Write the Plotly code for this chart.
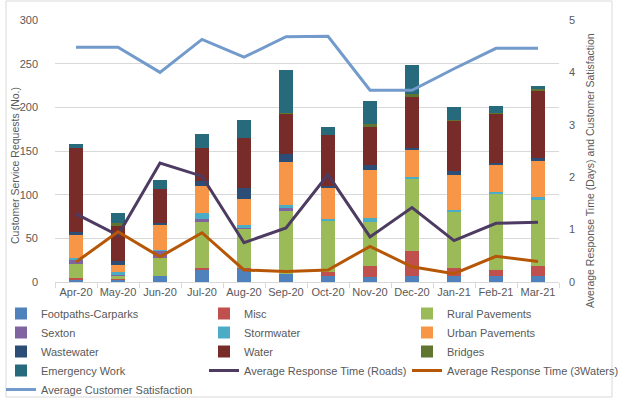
import plotly.graph_objects as go

months = ["Apr-20", "May-20", "Jun-20", "Jul-20", "Aug-20", "Sep-20",
          "Oct-20", "Nov-20", "Dec-20", "Jan-21", "Feb-21", "Mar-21"]

footpaths = [3, 3, 7, 14, 15, 9, 7, 6, 7, 7, 7, 7]
misc = [2, 1, 0, 2, 1, 0, 4, 12, 28, 9, 7, 11]
rural = [16, 3, 21, 53, 45, 72, 59, 51, 84, 65, 87, 77]
sexton = [5, 2, 8, 3, 1, 4, 0, 0, 0, 0, 0, 0]
stormwater = [2, 2, 1, 7, 3, 3, 2, 4, 1, 1, 2, 2]
urban = [26, 9, 29, 31, 30, 49, 36, 55, 31, 40, 31, 41]
wastewater = [3, 4, 2, 6, 13, 9, 2, 6, 3, 5, 2, 4]
water = [96, 41, 39, 37, 57, 47, 58, 43, 58, 58, 57, 77]
bridges = [0, 2, 0, 0, 0, 1, 0, 4, 3, 1, 1, 2]
emergency = [5, 12, 10, 16, 21, 49, 9, 26, 34, 14, 7, 4]

resp_roads = [1.30, 0.89, 2.27, 2.02, 0.75, 1.03, 2.05, 0.86, 1.42, 0.79, 1.12, 1.14]
resp_3waters = [0.38, 0.96, 0.48, 0.94, 0.23, 0.20, 0.23, 0.68, 0.29, 0.16, 0.49, 0.39]
satisfaction = [4.48, 4.48, 4.00, 4.63, 4.29, 4.68, 4.69, 3.66, 3.66, 4.07, 4.46, 4.46]

bar_series = [
    ("Footpaths-Carparks", footpaths, "#4F81BD"),
    ("Misc", misc, "#C0504D"),
    ("Rural Pavements", rural, "#9BBB59"),
    ("Sexton", sexton, "#8064A2"),
    ("Stormwater", stormwater, "#4BACC6"),
    ("Urban Pavements", urban, "#F79646"),
    ("Wastewater", wastewater, "#2C4D75"),
    ("Water", water, "#772C2A"),
    ("Bridges", bridges, "#5F7530"),
    ("Emergency Work", emergency, "#276A7C"),
]
line_series = [
    ("Average Response Time (Roads)", resp_roads, "#4D3B62"),
    ("Average Response Time (3Waters)", resp_3waters, "#B65708"),
    ("Average Customer Satisfaction", satisfaction, "#729ACA"),
]

legend_ids = ["legend", "legend2", "legend3"]

fig = go.Figure()
idx = 0
for name, vals, col in bar_series:
    fig.add_trace(go.Bar(x=months, y=vals, name=name, marker_color=col,
                         marker_line_width=0, yaxis="y",
                         legend=legend_ids[idx % 3]))
    idx += 1
for name, vals, col in line_series:
    fig.add_trace(go.Scatter(x=months, y=vals, name=name, mode="lines",
                             line=dict(color=col, width=3), yaxis="y2",
                             legend=legend_ids[idx % 3]))
    idx += 1

gray = "#595959"
grid = "#D9D9D9"
W, H = 618, 398
ml, mr, mt, mb = 55, 59, 20, 116
ph = H - mt - mb
pw = W - ml - mr
pbottom = H - mb


def px_x(px):
    return (px - ml) / pw


def px_y(py):
    return (pbottom - py) / ph


leg_common = dict(orientation="v", xanchor="left", yanchor="top",
                  y=px_y(299), font=dict(size=11, color=gray),
                  traceorder="normal", bgcolor="rgba(0,0,0,0)")

fig.update_layout(
    width=W, height=H,
    margin=dict(l=ml, r=mr, t=mt, b=mb, autoexpand=False),
    paper_bgcolor="white", plot_bgcolor="white",
    font=dict(family="Liberation Sans, Arial, sans-serif", size=11, color=gray),
    barmode="stack", bargap=0.68,
    xaxis=dict(type="category", showline=True, linecolor=grid, linewidth=1,
               ticks="outside", tickson="boundaries", ticklen=5, tickcolor=grid,
               tickangle=0, showgrid=False, tickfont=dict(size=11, color=gray)),
    yaxis=dict(range=[0, 300], dtick=50, showgrid=True, gridcolor=grid,
               zeroline=False, showline=False, ticklabelstandoff=16,
               tickfont=dict(size=11, color=gray)),
    yaxis2=dict(range=[0, 5], dtick=1, overlaying="y", side="right",
                showgrid=False, zeroline=False, showline=False,
                ticklabelstandoff=9, tickfont=dict(size=11, color=gray)),
    legend=dict(x=px_x(1), **leg_common),
    legend2=dict(x=px_x(204), **leg_common),
    legend3=dict(x=px_x(407), **leg_common),
    showlegend=True,
)

# axis titles
fig.add_annotation(text="Customer Service Requests (No.)", textangle=-90,
                   xref="paper", yref="paper", x=px_x(15), y=px_y(166),
                   showarrow=False, font=dict(size=10.5, color=gray),
                   xanchor="center", yanchor="middle")
fig.add_annotation(text="Average Response Time (Days) and Customer Satisfaction",
                   textangle=-90, xref="paper", yref="paper",
                   x=px_x(590), y=px_y(171), showarrow=False,
                   font=dict(size=10.5, color=gray),
                   xanchor="center", yanchor="middle")

# outer chart border
fig.add_shape(type="rect", xref="paper", yref="paper",
              x0=px_x(6), x1=px_x(612), y0=px_y(397), y1=px_y(1),
              line=dict(color=grid, width=1), fillcolor="rgba(0,0,0,0)",
              layer="below")

fig.write_html("out.html",
               config={"displayModeBar": False},
               post_script="document.body.style.margin='0';")
